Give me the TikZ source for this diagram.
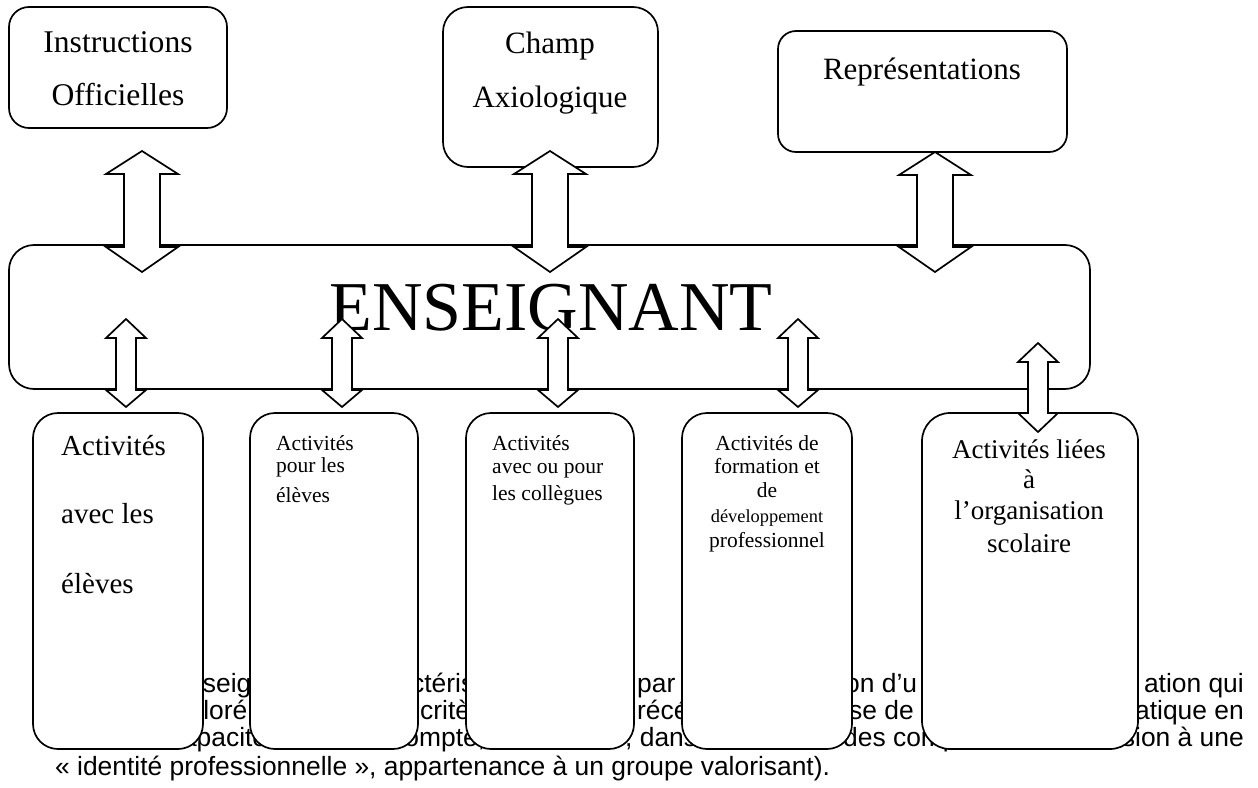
\documentclass[tikz,border=0pt]{standalone}
\usepackage{fontspec}
\setmainfont{Liberation Serif}
\newfontfamily\arialf{Liberation Sans}
\newcommand\fsz[1]{\fontsize{#1}{#1}\selectfont}
\newcommand\darrow[7]{%
  \draw[blockarrow] (#1,#2) -- (#1+#6,#3) -- (#1+#7,#3) -- (#1+#7,#4) -- (#1+#6,#4)
    -- (#1,#5) -- (#1-#6,#4) -- (#1-#7,#4) -- (#1-#7,#3) -- (#1-#6,#3) -- cycle;}
\tikzset{
  box/.style={draw, line width=1.7pt, fill=white, rounded corners=#1, inner sep=0pt, outer sep=0pt, anchor=north west},
  box/.default=22pt,
  blockarrow/.style={draw, line width=1.7pt, fill=white, line join=miter},
  lbl/.style={inner sep=0pt, anchor=base},
  lblw/.style={inner sep=0pt, anchor=base west},
  para/.style={inner sep=0pt, anchor=base west, font=\arialf\fsz{26.4}},
  parae/.style={inner sep=0pt, anchor=base east, font=\arialf\fsz{26.4}},
}
\begin{document}
\begin{tikzpicture}[x=1pt,y=-1pt]
\useasboundingbox (0,0) rectangle (1258,787);
% background paragraph (mostly hidden by boxes)
\node[para] (p1a) at (188,692) {nseig};
\node[para] (p1b) at (411,692) {ctéris};
\node[para] (p1c) at (637,692) {par};
\node[para] (p1d) at (845,692) {on d’u};
\node[parae] (p1e) at (1244,692) {ation qui};
\node[para] (p2a) at (188.5,719) {ploré};
\node[para] (p2b) at (420,719) {critè};
\node[para] (p2c) at (637,719) {récé};
\node[para] (p2d) at (849,719) {se de};
\node[parae] (p2e) at (1244,719) {atique en};
\node[para] (p3a) at (154,746) {, capacité};
\node[para] (p3b) at (391,746) {compte,};
\node[para] (p3c) at (625,746) {, dans};
\node[para] (p3d) at (843,746) {des comp};
\node[parae] (p3e) at (1244,746) {, adhésion à une};
\node[para] (p4) at (55,775) {«~identité professionnelle~», appartenance à un groupe valorisant).};
% boxes
\node[box=20pt, minimum width=218pt, minimum height=121pt] (io) at (9,7) {};
\node[box=25pt, minimum width=215pt, minimum height=160pt] (ca) at (443,7) {};
\node[box=18pt, minimum width=289pt, minimum height=121pt] (rep) at (778,31) {};
\node[box=25pt, minimum width=1081pt, minimum height=144pt] (ens) at (9,245) {};
\node[box=25pt, minimum width=170pt, minimum height=336pt] (b1) at (33,413) {};
\node[box=25pt, minimum width=168pt, minimum height=336pt] (b2) at (250,413) {};
\node[box=25pt, minimum width=168pt, minimum height=336pt] (b3) at (466,413) {};
\node[box=25pt, minimum width=170pt, minimum height=336pt] (b4) at (682,413) {};
\node[box=28pt, minimum width=216pt, minimum height=336pt] (b5) at (922,413) {};
% texts
\node[lbl, font=\fsz{31.6}] (io1) at (118,52) {Instructions};
\node[lbl, font=\fsz{31.6}] (io2) at (118,105) {Officielles};
\node[lbl, font=\fsz{31}] (ca1) at (550,53) {Champ};
\node[lbl, font=\fsz{31}] (ca2) at (550,107) {Axiologique};
\node[lbl, font=\fsz{31}] (rep1) at (922,79) {Représentations};
\node[lbl, font=\fsz{70}] (enst) at (551,330) {ENSEIGNANT};
\node[lblw, font=\fsz{29}] (t11) at (61,455) {Activités};
\node[lblw, font=\fsz{29}] (t12) at (61,523) {avec les};
\node[lblw, font=\fsz{29}] (t13) at (61,593) {élèves};
\node[lblw, font=\fsz{21.5}] (t21) at (276,450) {Activités};
\node[lblw, font=\fsz{21.5}] (t22) at (276,472) {pour les};
\node[lblw, font=\fsz{21.5}] (t23) at (276,502) {élèves};
\node[lblw, font=\fsz{21.5}] (t31) at (492,450) {Activités};
\node[lblw, font=\fsz{21.5}] (t32) at (492,473) {avec ou pour};
\node[lblw, font=\fsz{21.5}] (t33) at (492,500) {les collègues};
\node[lbl, font=\fsz{21.5}] (t41) at (767,450) {Activités de};
\node[lbl, font=\fsz{21.5}] (t42) at (767,473) {formation et};
\node[lbl, font=\fsz{21.5}] (t43) at (767,497) {de};
\node[lbl, font=\fsz{18.4}] (t44) at (767,522) {développement};
\node[lbl, font=\fsz{21.5}] (t45) at (767,547) {professionnel};
\node[lbl, font=\fsz{27}] (t51) at (1029,458) {Activités liées};
\node[lbl, font=\fsz{27}] (t52) at (1029,488) {à};
\node[lbl, font=\fsz{27}] (t53) at (1029,519) {l’organisation};
\node[lbl, font=\fsz{27}] (t54) at (1029,552) {scolaire};
% double block arrows
\darrow{142}{151}{174}{247}{272}{36}{18}
\darrow{550}{151}{174}{247}{272}{36}{18}
\darrow{935}{152}{175}{247}{272}{36}{18}
\darrow{126}{319}{338}{390}{407}{20}{10}
\darrow{342}{319}{338}{390}{407}{20}{10}
\darrow{558}{319}{338}{390}{407}{20}{10}
\darrow{798}{319}{338}{390}{407}{20}{10}
\darrow{1038}{343}{362}{413}{432}{20}{10}
\end{tikzpicture}
\end{document}
